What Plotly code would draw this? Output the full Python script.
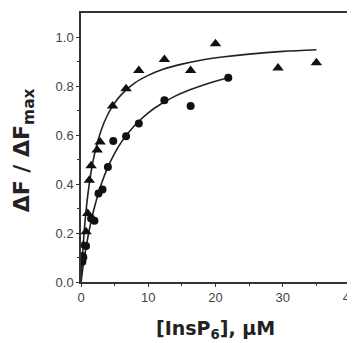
import plotly.graph_objects as go

# Triangle series (upper)
tri_x = [0.35, 0.75, 1.0, 1.24, 1.5, 2.4, 2.84, 4.7, 6.7, 8.6, 12.4, 16.3, 20.0, 29.3, 35.0]
tri_y = [0.15, 0.205, 0.28, 0.416, 0.475, 0.54, 0.573, 0.72, 0.79, 0.865, 0.91, 0.865, 0.974, 0.875, 0.897]

# Circle series (lower)
cir_x = [0.2, 0.25, 0.35, 0.75, 1.5, 2.0, 2.6, 3.2, 4.0, 4.8, 6.7, 8.6, 12.4, 16.3, 21.9]
cir_y = [0.083, 0.106, 0.10, 0.147, 0.26, 0.25, 0.362, 0.378, 0.47, 0.577, 0.596, 0.648, 0.743, 0.72, 0.835]

# Fitted curves
tri_fit_x = [0, 0.25, 0.5, 0.75, 1, 1.5, 2, 3, 4, 5, 6, 8, 10, 12, 15, 18, 21, 25, 30, 35]
tri_fit_y = [0, 0.120, 0.215, 0.291, 0.353, 0.450, 0.522, 0.621, 0.686, 0.732, 0.766, 0.814,
             0.845, 0.868, 0.891, 0.908, 0.920, 0.932, 0.943, 0.950]
cir_fit_x = [0, 0.25, 0.5, 1, 1.5, 2, 3, 4, 5, 6, 8, 10, 12, 14, 16, 18, 20, 21.9]
cir_fit_y = [0, 0.052, 0.099, 0.180, 0.248, 0.306, 0.399, 0.470, 0.526, 0.572, 0.641, 0.692,
             0.730, 0.760, 0.784, 0.804, 0.821, 0.835]

x_ticks = [0, 10, 20, 30, 40]
y_ticks = [0.0, 0.2, 0.4, 0.6, 0.8, 1.0]
y_tick_labels = ["0.0", "0.2", "0.4", "0.6", "0.8", "1.0"]

x_title = "<b>[InsP<sub>6</sub>], μM</b>"
y_title = "<b>ΔF / ΔF<sub>max</sub></b>"

fig = go.Figure()
fig.add_trace(go.Scatter(x=tri_fit_x, y=tri_fit_y, mode="lines",
                         line=dict(color="#222", width=1.6, shape="spline"), showlegend=False))
fig.add_trace(go.Scatter(x=cir_fit_x, y=cir_fit_y, mode="lines",
                         line=dict(color="#222", width=1.6, shape="spline"), showlegend=False))
fig.add_trace(go.Scatter(x=tri_x, y=tri_y, mode="markers",
                         marker=dict(symbol="triangle-up", size=10, color="#111"), showlegend=False))
fig.add_trace(go.Scatter(x=cir_x, y=cir_y, mode="markers",
                         marker=dict(symbol="circle", size=8, color="#111"), showlegend=False))

tick_font = dict(family="Liberation Sans, Arial, sans-serif", size=13, color="#444")
title_family = "DejaVu Sans, sans-serif"

# page body has an 8px default margin, so the figure is 8px smaller than the window
fig.update_layout(
    width=347, height=335,
    margin=dict(l=73, r=5, t=5, b=61),
    paper_bgcolor="white", plot_bgcolor="white",
    xaxis=dict(range=[0, 40], tickvals=x_ticks, ticktext=[str(v) for v in x_ticks],
               showgrid=False, zeroline=False, showline=True, mirror=True, automargin=False,
               linecolor="#333", linewidth=1.5, ticks="outside", ticklen=3, tickwidth=1,
               tickcolor="#333", tickfont=tick_font, ticklabeloverflow="allow",
               minor=dict(tickvals=[5, 15, 25, 35], ticks="outside", ticklen=2, tickcolor="#333")),
    yaxis=dict(range=[0, 1.1], tickvals=y_ticks, ticktext=y_tick_labels,
               showgrid=False, zeroline=False, showline=True, mirror=True, automargin=False,
               linecolor="#333", linewidth=1.5, ticks="outside", ticklen=3, tickwidth=1,
               tickcolor="#333", tickfont=tick_font,
               minor=dict(tickvals=[0.1, 0.3, 0.5, 0.7, 0.9], ticks="outside", ticklen=2,
                          tickcolor="#333")),
    annotations=[
        dict(text=x_title, xref="paper", yref="paper", x=0.5, y=-0.123,
             xanchor="center", yanchor="top", showarrow=False,
             font=dict(family=title_family, size=19, color="#222")),
        dict(text=y_title, xref="paper", yref="paper", x=-0.215, y=0.49,
             xanchor="center", yanchor="middle", textangle=-90, showarrow=False,
             font=dict(family=title_family, size=22, color="#222")),
    ],
)

fig.write_html("out.html")
